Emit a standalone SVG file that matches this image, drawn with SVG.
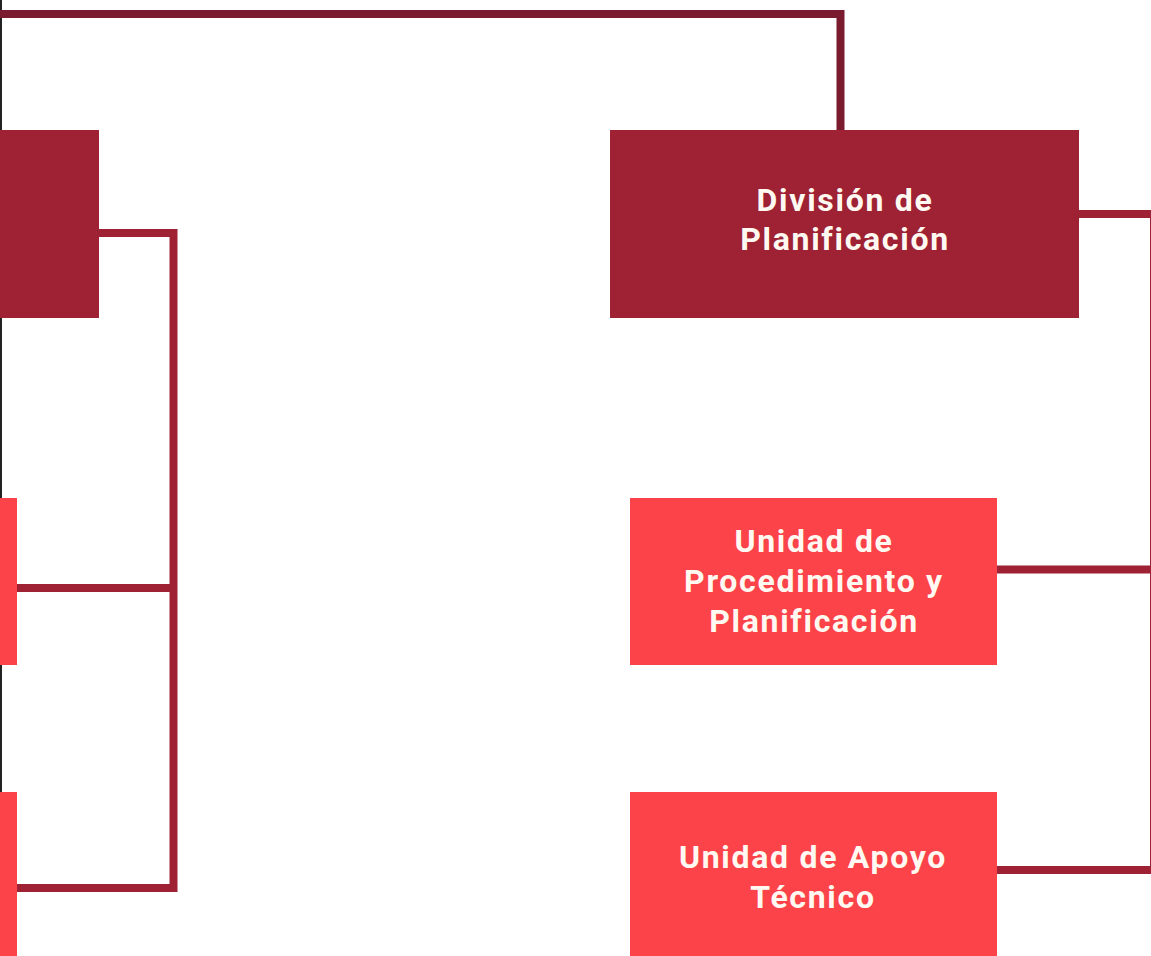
<svg xmlns="http://www.w3.org/2000/svg" width="1151" height="956" viewBox="0 0 1151 956">
<style>
.dark{fill:#9E2233}
.light{fill:#FC4349}
.ln{fill:none;stroke:#9E2233;stroke-width:8}
.top{fill:none;stroke:#7B1B30;stroke-width:8}
.t{font-family:Roboto,"Liberation Sans",sans-serif;font-weight:700;font-size:32px;fill:#FFF9F2;text-anchor:middle;letter-spacing:1.7px}
</style>
<rect width="1151" height="956" fill="#ffffff"/>
<g id="connectors">
<line x1="1" y1="0" x2="1" y2="956" stroke="#222" stroke-width="2"/>
<polyline class="top" points="0,14 840.5,14 840.5,130"/>
<polyline class="ln" points="99,233 173.5,233 173.5,888 17,888"/>
<line class="ln" x1="17" y1="588" x2="173.5" y2="588"/>
<polyline class="ln" points="1079,214 1154,214 1154,870 997,870"/>
<line class="ln" x1="997" y1="569.5" x2="1154" y2="569.5"/>
</g>
<g id="node-left-top"><rect class="dark" x="0" y="130" width="99" height="188"/></g>
<g id="node-left-mid"><rect class="light" x="0" y="498" width="17" height="167"/></g>
<g id="node-left-bottom"><rect class="light" x="0" y="792" width="17" height="164"/></g>
<g id="node-division">
<rect class="dark" x="610" y="130" width="469" height="188"/>
<text class="t" x="845" y="211">División de</text>
<text class="t" x="845" y="250">Planificación</text>
</g>
<g id="node-procedimiento">
<rect class="light" x="630" y="498" width="367" height="167"/>
<text class="t" x="814" y="552">Unidad de</text>
<text class="t" x="814" y="592">Procedimiento y</text>
<text class="t" x="814" y="632">Planificación</text>
</g>
<g id="node-apoyo">
<rect class="light" x="630" y="792" width="367" height="164"/>
<text class="t" x="813" y="868">Unidad de Apoyo</text>
<text class="t" x="813" y="908">Técnico</text>
</g>
</svg>
